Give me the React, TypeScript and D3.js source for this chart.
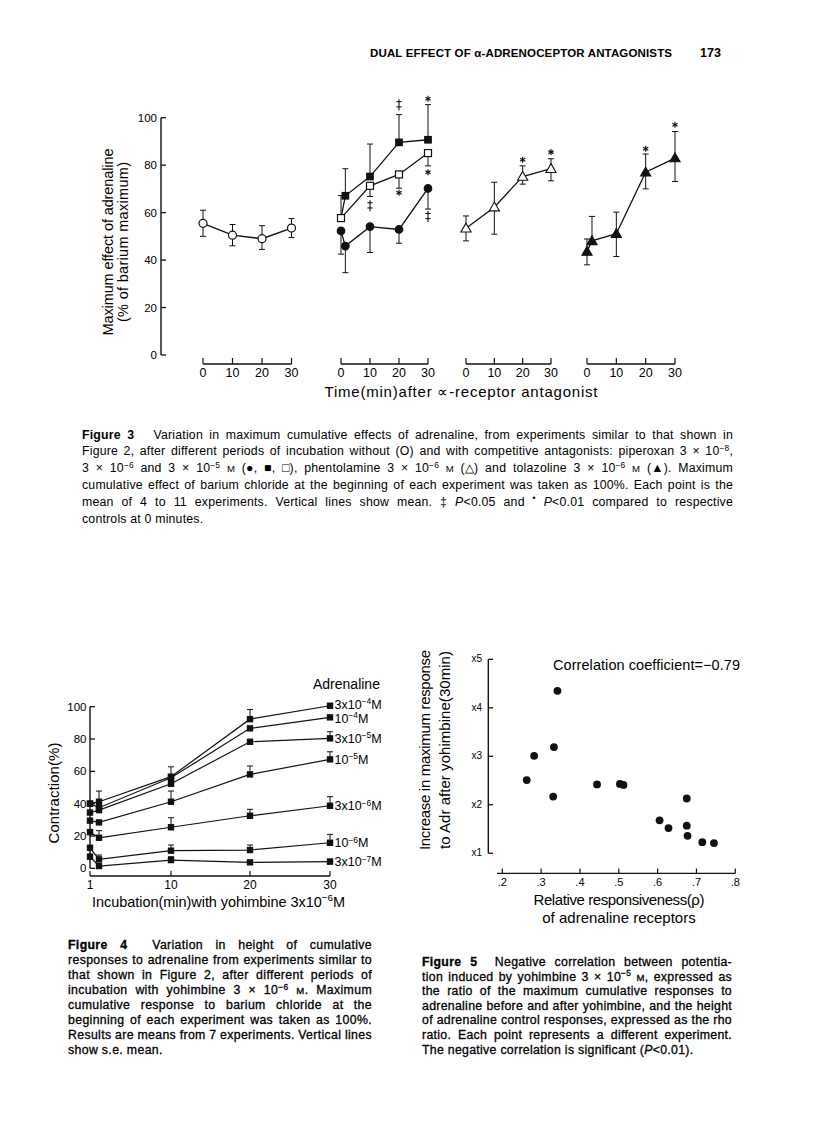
import React, { useLayoutEffect, useRef } from 'react';
import * as d3 from 'd3';

const FONT = "'Liberation Sans', Arial, Helvetica, sans-serif";

// ---------- Figure 3 data ----------
const fig3YTicks = [0, 20, 40, 60, 80, 100];
const fig3TimeTicks = [0, 10, 20, 30];

const ctrlTime = [0, 10, 20, 30];
const ctrlMean = [55.5, 50.5, 49, 53.5];
const ctrlHi = [61, 55, 54.5, 57.5];
const ctrlLo = [50, 46, 44.5, 49.5];

const pipFSqTime = [0, 1.5, 10, 20, 30];
const pipFSqMean = [57.7, 67.1, 75.2, 89.6, 90.7];
const pipFSqHi = [57.7, 78.5, 88.9, 101.3, 105.5];
const pipFSqLo = [57.7, 67.1, 75.2, 89.6, 90.7];

const pipCircTime = [0, 1.5, 10, 20, 30];
const pipCircMean = [52.3, 45.9, 54.1, 52.9, 70.2];
const pipCircHi = [52.3, 45.9, 54.1, 52.9, 70.2];
const pipCircLo = [42.5, 34.7, 43.2, 47.1, 61.5];

const pipOSqTime = [0, 10, 20, 30];
const pipOSqMean = [57.7, 71.3, 76.1, 85.1];
const pipOSqHi = [67.2, 71.3, 76.1, 85.1];
const pipOSqLo = [57.7, 66.8, 70.3, 79.7];

const phenTime = [0, 10, 20, 30];
const phenMean = [53.4, 62.3, 75.2, 78.5];
const phenHi = [58.6, 72.8, 79.7, 82.7];
const phenLo = [48.1, 50.9, 72.0, 73.4];

const tolTime = [0, 1.7, 10, 20, 30];
const tolMean = [43.6, 48.1, 51.1, 77.0, 83.0];
const tolHi = [48.9, 58.4, 60.2, 84.7, 94.2];
const tolLo = [38.0, 48.1, 41.5, 70.0, 73.1];

const sigPanel = [1, 1, 1, 1, 1, 1, 2, 2, 3, 3];
const sigTime = [20, 30, 10, 20, 30, 30, 20, 30, 20, 30];
const sigValue = [105.5, 108, 62.9, 68.4, 77, 58.4, 82.3, 85.5, 86.9, 97];
const sigSymbol = ['‡', '*', '‡', '*', '*', '‡', '*', '*', '*', '*'];

// ---------- Figure 4 data ----------
const fig4Time = [1, 2, 10, 20, 30];
const fig4TimeTicks = [1, 10, 20, 30];
const fig4YTicks = [0, 20, 40, 60, 80, 100];
const adr3e4 = [40, 41.2, 56.7, 92.3, 100.6];
const adr1e4 = [40, 37.5, 56, 86.6, 93.4];
const adr3e5 = [34.5, 36, 52.3, 78.3, 80.4];
const adr1e5 = [29.5, 28.4, 41.2, 58.1, 67.4];
const adr3e6 = [22.4, 18.9, 25.4, 32.5, 38.7];
const adr1e6 = [12.7, 5.5, 10.9, 11.3, 15.8];
const adr3e7 = [7.2, 1.4, 5.1, 3.7, 4.1];
const err3e4 = [null, 47.8, 62.8, 98.3, null];
const err1e4 = [null, null, null, null, null];
const err3e5 = [null, null, null, null, 84.5];
const err1e5 = [null, null, 47.8, 63.3, 72.1];
const err3e6 = [null, 23.3, 31.3, 36.5, 44.3];
const err1e6 = [null, 8.2, 14.4, 14.4, 21];
const err3e7 = [null, null, 7.2, null, 5.7];
const fig4Labels = [
  '3x10[sup]−4[/sup]M', '10[sup]−4[/sup]M', '3x10[sup]−5[/sup]M', '10[sup]−5[/sup]M',
  '3x10[sup]−6[/sup]M', '10[sup]−6[/sup]M', '3x10[sup]−7[/sup]M',
];

// ---------- Figure 5 data ----------
const rhoValues = [0.342, 0.282, 0.333, 0.263, 0.331, 0.444, 0.503, 0.512, 0.675, 0.605, 0.628, 0.675, 0.677, 0.715, 0.745];
const increaseValues = [4.35, 3.01, 3.19, 2.51, 2.17, 2.42, 2.43, 2.41, 2.13, 1.68, 1.52, 1.57, 1.36, 1.23, 1.21];
const fig5YTicks = [1, 2, 3, 4, 5];
const fig5YLabels = ['x1', 'x2', 'x3', 'x4', 'x5'];
const fig5XTicks = [0.2, 0.3, 0.4, 0.5, 0.6, 0.7, 0.8];
const fig5XLabels = ['.2', '.3', '.4', '.5', '.6', '.7', '.8'];

// ---------- Captions ----------
const caption3 = [
  '[b]Figure 3[/b]   Variation in maximum cumulative effects of adrenaline, from experiments similar to that shown in',
  'Figure 2, after different periods of incubation without (O) and with competitive antagonists: piperoxan 3 × 10[sup]−8[/sup],',
  '3 × 10[sup]−6[/sup] and 3 × 10[sup]−5[/sup] [sc]M[/sc] (●, ■, □), phentolamine 3 × 10[sup]−6[/sup] [sc]M[/sc] (△) and tolazoline 3 × 10[sup]−6[/sup] [sc]M[/sc] (▲). Maximum',
  'cumulative effect of barium chloride at the beginning of each experiment was taken as 100%. Each point is the',
  'mean of 4 to 11 experiments. Vertical lines show mean. ‡ [i]P[/i]<0.05 and [sup]•[/sup] [i]P[/i]<0.01 compared to respective',
  'controls at 0 minutes.',
];
const caption4 = [
  '[b]Figure 4[/b]  Variation in height of cumulative',
  'responses to adrenaline from experiments similar to',
  'that shown in Figure 2, after different periods of',
  'incubation with yohimbine 3 × 10[sup]−6[/sup] [sc]M[/sc]. Maximum',
  'cumulative response to barium chloride at the',
  'beginning of each experiment was taken as 100%.',
  'Results are means from 7 experiments. Vertical lines',
  'show s.e. mean.',
];
const caption5 = [
  '[b]Figure 5[/b]  Negative correlation between potentia-',
  'tion induced by yohimbine 3 × 10[sup]−5[/sup] [sc]M[/sc], expressed as',
  'the ratio of the maximum cumulative responses to',
  'adrenaline before and after yohimbine, and the height',
  'of adrenaline control responses, expressed as the rho',
  'ratio. Each point represents a different experiment.',
  'The negative correlation is significant ([i]P[/i]<0.01).',
];

// ---------- helpers ----------
type Seg = { t: string; b?: boolean; i?: boolean; sup?: boolean; sc?: boolean };
function parse(s: string): Seg[] {
  const out: Seg[] = [];
  const re = /\[(b|i|sup|sc)\]([\s\S]*?)\[\/\1\]/g;
  let last = 0;
  let m: RegExpExecArray | null;
  while ((m = re.exec(s))) {
    if (m.index > last) out.push({ t: s.slice(last, m.index) });
    const seg: Seg = { t: m[2] };
    (seg as any)[m[1]] = true;
    out.push(seg);
    last = re.lastIndex;
  }
  if (last < s.length) out.push({ t: s.slice(last) });
  return out;
}

function richKids(text: string, fs: number) {
  const segs = parse(text);
  const sh = fs * 0.36;
  let shifted = false;
  return segs.map((s, k) => {
    let dy = 0;
    if (s.sup && !shifted) { dy = -sh; shifted = true; }
    else if (!s.sup && shifted) { dy = sh; shifted = false; }
    return (
      <tspan key={k} dy={dy || undefined}
        fontSize={s.sup ? fs * 0.68 : s.sc ? fs * 0.78 : undefined}
        fontWeight={s.b ? 'bold' : undefined}
        fontStyle={s.i ? 'italic' : undefined}>{s.t}</tspan>
    );
  });
}

function Rich(props: any) {
  const { x, y, fs, text, anchor = 'start', len, weight, rotate } = props;
  return (
    <text x={x} y={y} fontSize={fs} textAnchor={anchor}
      textLength={len} lengthAdjust={len ? 'spacing' : undefined}
      fontWeight={weight}
      xmlSpace="preserve" style={{ whiteSpace: 'pre' }}
      transform={rotate ? `rotate(-90 ${x} ${y})` : undefined}>{richKids(text, fs)}</text>
  );
}

function JustLine({ x, y, fs, text, width, heavy, ls }: any) {
  const ref = useRef<SVGTextElement>(null);
  useLayoutEffect(() => {
    const el = ref.current;
    if (!el || !width) return;
    el.style.wordSpacing = '0px';
    const w = el.getComputedTextLength();
    const spaces = ((el.textContent || '').match(/ /g) || []).length;
    if (spaces > 0) el.style.wordSpacing = ((width - w) / spaces).toFixed(3) + 'px';
  }, [text, width]);
  return (
    <text ref={ref} x={x} y={y} fontSize={fs}
      stroke={heavy ? '#000' : undefined} strokeWidth={heavy ? 0.3 : undefined}
      xmlSpace="preserve" style={{ whiteSpace: 'pre', letterSpacing: ls ? ls + 'px' : undefined }}>{richKids(text, fs)}</text>
  );
}

function Caption({ lines, x, width, y0, step, fs, heavy, ls }: any) {
  return (
    <g>
      {lines.map((l: string, i: number) => (
        <JustLine key={i} x={x} y={y0 + i * step} fs={fs} text={l} ls={ls}
          width={i < lines.length - 1 ? width : undefined} heavy={heavy} />
      ))}
    </g>
  );
}

function Marker({ x, y, shape, fill, size }: any) {
  const f = fill ? '#111' : '#fff';
  if (shape === 'circle') return <circle cx={x} cy={y} r={size / 2} fill={f} stroke="#111" strokeWidth={1.2} />;
  if (shape === 'square') return <rect x={x - size / 2} y={y - size / 2} width={size} height={size} fill={f} stroke="#111" strokeWidth={1.2} />;
  const p = d3.symbol().type(d3.symbolTriangle).size(size * size * 0.5)();
  return <path d={p as string} transform={`translate(${x},${y + 0.8})`} fill={f} stroke="#111" strokeWidth={1.1} />;
}

function ErrBar({ x, y0, y1, cap = 3 }: any) {
  return (
    <g stroke="#111" strokeWidth={1}>
      <line x1={x} x2={x} y1={y0} y2={y1} />
      <line x1={x - cap} x2={x + cap} y1={y1} y2={y1} />
    </g>
  );
}

function DoubleDagger({ x, y }: any) {
  return (
    <g stroke="#111" strokeWidth={1.1}>
      <line x1={x} x2={x} y1={y - 5.5} y2={y + 5.5} />
      <line x1={x - 2.6} x2={x + 2.6} y1={y - 3} y2={y - 3} />
      <line x1={x - 2.6} x2={x + 2.6} y1={y + 2.2} y2={y + 2.2} />
    </g>
  );
}

function Asterisk({ x, y }: any) {
  const r = 3;
  const angles = [90, 30, -30];
  return (
    <g stroke="#111" strokeWidth={1.2}>
      {angles.map(a => {
        const dx = r * Math.cos((a * Math.PI) / 180);
        const dy = r * Math.sin((a * Math.PI) / 180);
        return <line key={a} x1={x - dx} x2={x + dx} y1={y - dy} y2={y + dy} />;
      })}
    </g>
  );
}

// ---------- Figure 3 ----------
function Figure3() {
  const y = d3.scaleLinear().domain([0, 100]).range([355, 117.7]);
  const ranges = [[203, 291.5], [341, 428], [466, 551], [587, 675]];
  const xs = ranges.map(r => d3.scaleLinear().domain([0, 30]).range(r));
  const series = [
    { p: 0, t: ctrlTime, m: ctrlMean, hi: ctrlHi, lo: ctrlLo, shape: 'circle', fill: false, size: 8 },
    { p: 1, t: pipFSqTime, m: pipFSqMean, hi: pipFSqHi, lo: pipFSqLo, shape: 'square', fill: true, size: 6.5 },
    { p: 1, t: pipCircTime, m: pipCircMean, hi: pipCircHi, lo: pipCircLo, shape: 'circle', fill: true, size: 7.5 },
    { p: 1, t: pipOSqTime, m: pipOSqMean, hi: pipOSqHi, lo: pipOSqLo, shape: 'square', fill: false, size: 7 },
    { p: 2, t: phenTime, m: phenMean, hi: phenHi, lo: phenLo, shape: 'triangle', fill: false, size: 9.5 },
    { p: 3, t: tolTime, m: tolMean, hi: tolHi, lo: tolLo, shape: 'triangle', fill: true, size: 9.5 },
  ];
  const line = d3.line<[number, number]>();
  return (
    <g>
      <line x1={161} x2={161} y1={y(0)} y2={y(100)} stroke="#111" strokeWidth={1.4} />
      {fig3YTicks.map(v => (
        <g key={v}>
          <line x1={161} x2={166} y1={y(v)} y2={y(v)} stroke="#111" strokeWidth={1.3} />
          <text x={157} y={y(v) + 4} fontSize={11.5} textAnchor="end">{v}</text>
        </g>
      ))}
      <Rich x={113} y={242} fs={14.5} text="Maximum effect of adrenaline" anchor="middle" rotate len={187} />
      <Rich x={128} y={242} fs={14.5} text="(% of barium maximum)" anchor="middle" rotate len={160} />
      {xs.map((sx, i) => (
        <g key={i}>
          <line x1={sx(0)} x2={sx(30)} y1={364} y2={364} stroke="#111" strokeWidth={1.3} />
          {fig3TimeTicks.map(t => (
            <g key={t}>
              <line x1={sx(t)} x2={sx(t)} y1={364} y2={358} stroke="#111" strokeWidth={1.2} />
              <text x={sx(t)} y={376.5} fontSize={12.5} textAnchor="middle">{t}</text>
            </g>
          ))}
        </g>
      ))}
      <text x={461} y={397} fontSize={15} textAnchor="middle" textLength={273} lengthAdjust="spacing">Time(min)after ∝-receptor antagonist</text>
      {series.map((s, i) => (
        <path key={'l' + i} d={line(s.t.map((t, k) => [xs[s.p](t), y(s.m[k])]) as any) as string}
          fill="none" stroke="#111" strokeWidth={1.3} />
      ))}
      {series.map((s, i) => s.t.map((t, k) => (
        <g key={'e' + i + '-' + k}>
          {s.hi[k] > s.m[k] + 0.01 && <ErrBar x={xs[s.p](t)} y0={y(s.m[k])} y1={y(s.hi[k])} />}
          {s.lo[k] < s.m[k] - 0.01 && <ErrBar x={xs[s.p](t)} y0={y(s.m[k])} y1={y(s.lo[k])} />}
        </g>
      )))}
      {series.map((s, i) => s.t.map((t, k) => (
        <Marker key={'m' + i + '-' + k} x={xs[s.p](t)} y={y(s.m[k])} shape={s.shape} fill={s.fill} size={s.size} />
      )))}
      {sigSymbol.map((sym, i) => {
        const cx = xs[sigPanel[i]](sigTime[i]);
        const cy = y(sigValue[i]);
        return sym === '*'
          ? <Asterisk key={'s' + i} x={cx} y={cy} />
          : <DoubleDagger key={'s' + i} x={cx} y={cy} />;
      })}
    </g>
  );
}

// ---------- Figure 4 ----------
function Figure4() {
  const x = d3.scaleLinear().domain([1, 10, 20, 30]).range([90, 171, 250, 330]);
  const y = d3.scaleLinear().domain([0, 100]).range([868.3, 706.7]);
  const series = [adr3e4, adr1e4, adr3e5, adr1e5, adr3e6, adr1e6, adr3e7];
  const errs = [err3e4, err1e4, err3e5, err1e5, err3e6, err1e6, err3e7];
  const line = d3.line<number>().x((_, k) => x(fig4Time[k])).y(v => y(v));
  const labelNudge = [-1.2, 1.2, 0, 0, 0, 0, 0];
  return (
    <g>
      <line x1={90} x2={90} y1={y(0)} y2={y(100)} stroke="#111" strokeWidth={1.4} />
      {fig4YTicks.map(v => (
        <g key={v}>
          <line x1={90} x2={95} y1={y(v)} y2={y(v)} stroke="#111" strokeWidth={1.3} />
          <text x={86.5} y={y(v) + 4} fontSize={11.5} textAnchor="end">{v}</text>
        </g>
      ))}
      <line x1={x(1)} x2={x(30)} y1={876} y2={876} stroke="#111" strokeWidth={1.3} />
      {fig4TimeTicks.map(t => (
        <g key={t}>
          <line x1={x(t)} x2={x(t)} y1={876} y2={871} stroke="#111" strokeWidth={1.2} />
          <text x={x(t)} y={888.5} fontSize={12} textAnchor="middle">{t}</text>
        </g>
      ))}
      <Rich x={59} y={793} fs={15} text="Contraction(%)" anchor="middle" rotate len={101} />
      <Rich x={92} y={906.5} fs={14.5} text="Incubation(min)with yohimbine 3x10[sup]−6[/sup]M" len={253} />
      <text x={313} y={689} fontSize={14}>Adrenaline</text>
      {series.map((s, i) => (
        <path key={'l' + i} d={line(s) as string} fill="none" stroke="#111" strokeWidth={1.2} />
      ))}
      {errs.map((e, i) => e.map((v, k) => v == null ? null : (
        <ErrBar key={'e' + i + '-' + k} x={x(fig4Time[k])} y0={y(series[i][k])} y1={y(v)} />
      )))}
      {series.map((s, i) => s.map((v, k) => (
        <rect key={'m' + i + '-' + k} x={x(fig4Time[k]) - 3.2} y={y(v) - 3.2} width={6.4} height={6.4} fill="#111" />
      )))}
      {fig4Labels.map((lab, i) => (
        <Rich key={'lab' + i} x={x(30) + 4.5} y={y(series[i][4]) + 4.4 + labelNudge[i]} fs={12.5} text={lab} />
      ))}
    </g>
  );
}

// ---------- Figure 5 ----------
function Figure5() {
  const x = d3.scaleLinear().domain([0.2, 0.8]).range([502.3, 735.3]);
  const y = d3.scaleLinear().domain([1, 5]).range([853.3, 659.3]);
  return (
    <g>
      <line x1={488.3} x2={488.3} y1={y(1)} y2={y(5)} stroke="#111" strokeWidth={1.4} />
      {fig5YTicks.map((v, i) => (
        <g key={v}>
          <line x1={488.3} x2={493} y1={y(v)} y2={y(v)} stroke="#111" strokeWidth={1.3} />
          <text x={482} y={y(v) + 3} fontSize={10} textAnchor="end">{fig5YLabels[i]}</text>
        </g>
      ))}
      <line x1={497} x2={x(0.8)} y1={873.3} y2={873.3} stroke="#111" strokeWidth={1.3} />
      {fig5XTicks.map((v, i) => (
        <g key={v}>
          <line x1={x(v)} x2={x(v)} y1={873.3} y2={868.5} stroke="#111" strokeWidth={1.2} />
          <text x={x(v)} y={886} fontSize={11} textAnchor="middle">{fig5XLabels[i]}</text>
        </g>
      ))}
      {rhoValues.map((r, i) => (
        <circle key={i} cx={x(r)} cy={y(increaseValues[i])} r={3.9} fill="#111" />
      ))}
      <text x={553} y={670} fontSize={14.5} textLength={187} lengthAdjust="spacing">Correlation coefficient=−0.79</text>
      <Rich x={430} y={750} fs={15} text="Increase in maximum response" anchor="middle" rotate len={200} />
      <Rich x={450} y={750} fs={15} text="to Adr after yohimbine(30min)" anchor="middle" rotate len={198} />
      <text x={619} y={905} fontSize={15} textAnchor="middle" textLength={171} lengthAdjust="spacing">Relative responsiveness(ρ)</text>
      <text x={619} y={923} fontSize={15} textAnchor="middle">of adrenaline receptors</text>
    </g>
  );
}

export default function App() {
  return (
    <svg width={816} height={1136} style={{ position: 'absolute', left: 0, top: 0 }} fontFamily={FONT}>
      <rect width={816} height={1136} fill="#fff" />
      <text x={370} y={57} fontSize={11.5} fontWeight="bold" textLength={302} lengthAdjust="spacing">DUAL EFFECT OF α-ADRENOCEPTOR ANTAGONISTS</text>
      <text x={700} y={57} fontSize={12.5} fontWeight="bold">173</text>
      <Figure3 />
      <Caption lines={caption3} x={82} width={651} y0={438.5} step={16.8} fs={12.3} ls={0.2} />
      <Figure4 />
      <Caption lines={caption4} x={68} width={304} y0={949} step={15} fs={12.3} ls={0.35} heavy />
      <Figure5 />
      <Caption lines={caption5} x={422} width={310} y0={966} step={14.6} fs={12.3} ls={0.3} heavy />
    </svg>
  );
}
